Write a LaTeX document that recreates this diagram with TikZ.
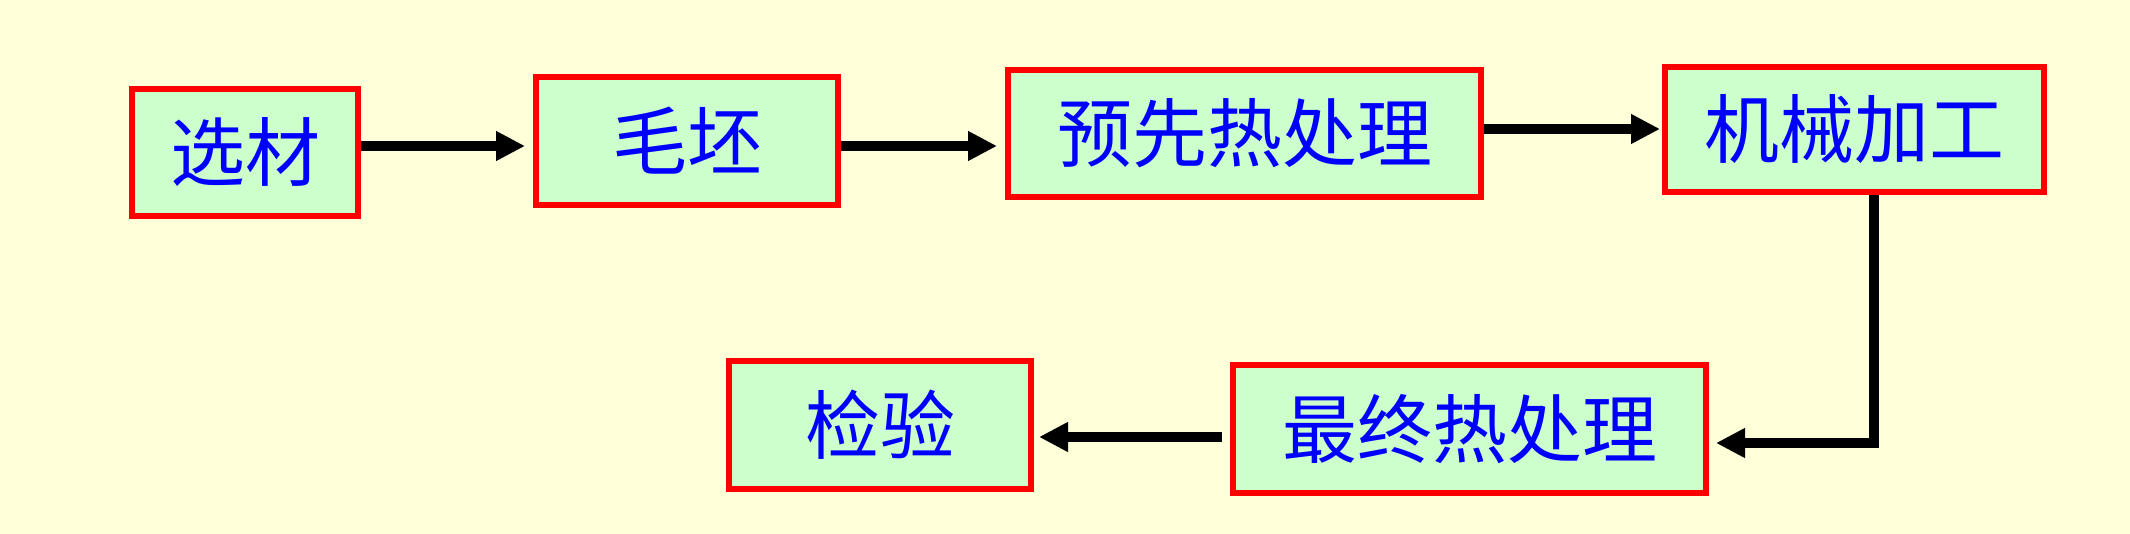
\documentclass[tikz,border=0pt]{standalone}
\usepackage{fontspec}
\newfontfamily\cjk{Noto Sans CJK SC}
\usetikzlibrary{arrows.meta}
\definecolor{bgyellow}{RGB}{255,255,217}
\definecolor{boxgreen}{RGB}{204,255,204}
\definecolor{boxred}{RGB}{255,0,0}
\definecolor{txtblue}{RGB}{0,0,255}
\pgfdeclarelayer{paper}
\pgfdeclarelayer{wires}
\pgfsetlayers{paper,wires,main}
\tikzset{
  stepbox/.style={draw=boxred, fill=boxgreen, line width=6pt, inner sep=0pt,
    text=txtblue, font=\cjk\fontsize{75}{80}\selectfont},
  flow/.style={line width=10pt, draw=black,
    -{Triangle[length=29pt,width=28pt]}},
  plain/.style={line width=10pt, draw=black}
}
\begin{document}
\begin{tikzpicture}[x=1pt,y=-1pt]
\begin{pgfonlayer}{paper}
\fill[bgyellow] (0,0) rectangle (2130,534);
\end{pgfonlayer}
\useasboundingbox (0,0) rectangle (2130,534);
\node[stepbox, minimum width=226pt, minimum height=127pt] (b1) at (245,152.5) {选材};
\node[stepbox, minimum width=302pt, minimum height=128pt] (b2) at (687,141) {毛坯};
\node[stepbox, minimum width=473pt, minimum height=127pt] (b3) at (1244.5,133.5) {预先热处理};
\node[stepbox, minimum width=379pt, minimum height=125pt] (b4) at (1854.5,129.5) {机械加工};
\node[stepbox, minimum width=302pt, minimum height=128pt] (b5) at (880,425) {检验};
\node[stepbox, minimum width=473pt, minimum height=128pt] (b6) at (1469.5,429) {最终热处理};
\coordinate (r1) at (0,146);
\coordinate (r2) at (0,129);
\coordinate (c4) at (1874,448);
\coordinate (h4) at (1874,443);
\coordinate (r5) at (0,437);
\begin{pgfonlayer}{wires}
\draw[flow, shorten >=8pt] (b1.east |- r1) -- (b2.west |- r1);
\draw[flow, shorten >=8pt] (b2.east |- r1) -- (b3.west |- r1);
\draw[flow, shorten >=2pt] (b3.east |- r2) -- (b4.west |- r2);
\draw[plain] (b4.south -| c4) -- (c4);
\draw[flow, shorten >=7pt] (h4) -- (b6.east |- h4);
\draw[flow, shorten <=8pt, shorten >=5pt] (b6.west |- r5) -- (b5.east |- r5);
\end{pgfonlayer}
\end{tikzpicture}
\end{document}
